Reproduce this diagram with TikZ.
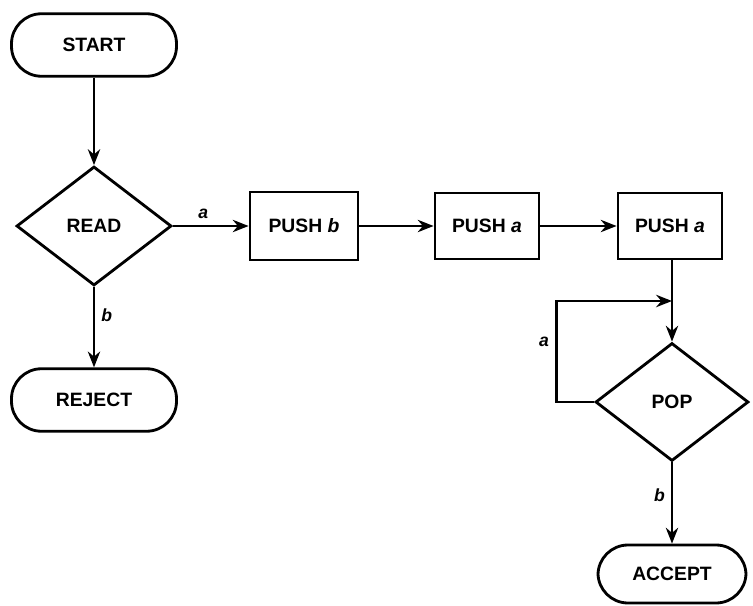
\documentclass[tikz,border=0pt]{standalone}
\usepackage{fontspec}
\setsansfont{Liberation Sans}
\usetikzlibrary{shapes.geometric,arrows.meta,calc}
\begin{document}
\begin{tikzpicture}[
   every node/.style={font=\sffamily\bfseries\fontsize{11}{13}\selectfont},
   every path/.style={line width=1.6pt},
   term/.style={draw,rounded corners=0.6cm,minimum width=3.3cm,minimum height=1.25cm},
   op/.style={draw,rectangle,minimum width=2.08cm,minimum height=1.32cm},
   test/.style={draw,diamond,inner sep=0pt,minimum width=3.1cm,minimum height=2.38cm},
   go/.style={-{Stealth[length=9pt,width=7pt]}},
   lbl/.style={font=\sffamily\bfseries\itshape\fontsize{10}{12}\selectfont}]
   \useasboundingbox (0,0) rectangle (15.06,-12.12);
   \node[term] (start) at (1.88,-0.90) {START};
   \node[test] (read) at (1.88,-4.52) {READ};
   \node[op,minimum width=2.16cm,minimum height=1.36cm] (pushb) at (6.08,-4.52) {PUSH \textit{b}};
   \node[op] (pusha) at (9.74,-4.52) {PUSH \textit{a}};
   \node[op] (pushaa) at (13.40,-4.52) {PUSH \textit{a}};
   \node[term] (reject) at (1.88,-8.00) {REJECT};
   \node[test,minimum width=3.06cm,minimum height=2.36cm] (pop) at (13.44,-8.04) {POP};
   \node[term,minimum width=2.96cm,minimum height=1.16cm] (accept) at (13.44,-11.48) {ACCEPT};
   \coordinate (join) at ($(pop.north)!0.5!(pushaa.south -| pop.north)$);

   \draw[go] (start) -- (read);
   \draw[go] (read.east) -- node[lbl,above,pos=0.4] {a} (pushb.west);
   \draw[go] (pushb) -- (pusha);
   \draw[go] (pusha) -- (pushaa);
   \draw[go] (read.south) -- node[lbl,right,pos=0.35] {b} (reject.north);
   \draw[go] (pushaa.south -| pop.north) -- (pop.north);
   \draw[go] (pop.west) -- ++(-0.76,0) |- node[lbl,left,pos=0.3] {a} (join);
   \draw[go] (pop.south) -- node[lbl,left,pos=0.4] {b} (accept.north);
\end{tikzpicture}
\end{document}
